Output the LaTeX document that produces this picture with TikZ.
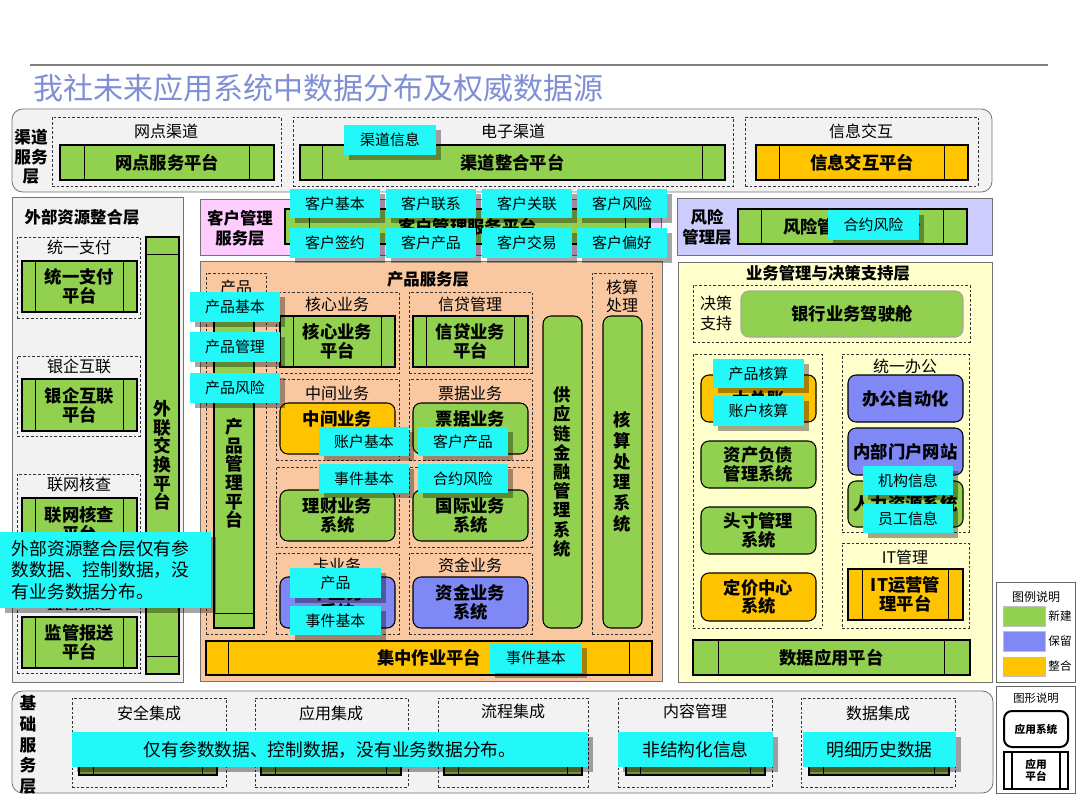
\documentclass[tikz,border=0pt]{standalone}
\usepackage{fontspec}
\setmainfont{Noto Sans CJK SC}
\usetikzlibrary{fit,calc,shadows}
\definecolor{cgreen}{HTML}{92D050}
\definecolor{cblue}{HTML}{7F88F4}
\definecolor{cyellow}{HTML}{FFC400}
\definecolor{ccyan}{HTML}{22F8F8}
\definecolor{cpeach}{HTML}{FAC8A0}
\definecolor{cpink}{HTML}{FFCCFF}
\definecolor{clav}{HTML}{CCCCFF}
\definecolor{clight}{HTML}{FFFFCC}
\definecolor{cgray}{HTML}{F2F2F2}
\definecolor{ctitle}{HTML}{7F8FD6}
\definecolor{cdgreen}{HTML}{77933C}
% box without text
\newcommand{\mkbox}[6]{\node[#6, fit={(#2,#3)(#4,#5)}, inner sep=0pt] (#1) {};}
% box with centred text
\newcommand{\mkboxt}[8]{\node[#6, fit={(#2,#3)(#4,#5)}, inner sep=0pt] (#1) {};
  \node[#7] (#1-t) at (#1.center) {#8};}
\newcommand{\mkvbars}[2]{\draw[barline] ($(#1.north west)+(#2,0)$) -- ($(#1.south west)+(#2,0)$); \draw[barline] ($(#1.north east)+(-#2,0)$) -- ($(#1.south east)+(-#2,0)$);}
\newcommand{\mkhbars}[2]{\draw[barline] ($(#1.north west)+(0,#2)$) -- ($(#1.north east)+(0,#2)$); \draw[barline] ($(#1.south west)+(0,-#2)$) -- ($(#1.south east)+(0,-#2)$);}
\tikzset{
  layerbox/.style={draw=black!55, line width=0.6pt},
  dbox/.style={draw=black!80, dash pattern=on 2pt off 1.5pt, line width=0.5pt},
  barline/.style={draw=black, line width=0.8pt},
  plat/.style={draw=black, line width=0.8pt},
  sys/.style={draw=black, line width=0.8pt, rounded corners=6pt},
  ptxt/.style={inner sep=0pt, align=center, font=\bfseries\fontsize{13pt}{14pt}\selectfont},
  vtxt/.style={inner sep=0pt, align=center, font=\bfseries\fontsize{13.3pt}{14pt}\selectfont},
  callout/.style={fill=ccyan, drop shadow={shadow xshift=4pt, shadow yshift=-4pt, opacity=0.35, fill=black}},
  ctxt/.style={inner sep=0pt, align=center, font=\fontsize{11.2pt}{13pt}\selectfont},
  bctxt/.style={inner sep=0pt, align=center, font=\fontsize{13.3pt}{15pt}\selectfont},
  lbl/.style={inner sep=0pt, align=center, font=\fontsize{12pt}{15pt}\selectfont},
  ttl/.style={inner sep=0pt, align=center, font=\bfseries\fontsize{12.3pt}{15pt}\selectfont},
}
\begin{document}
\begin{tikzpicture}[x=0.75pt,y=-0.75pt]
\useasboundingbox (0,0) rectangle (1080,810);
\fill[white] (0,0) rectangle (1080,810);
% title
\draw[black!50, line width=0.8pt] (30,65) -- (1048,65);
\node[anchor=west, inner sep=0pt, text=ctitle, font=\fontsize{22.5pt}{26pt}\selectfont] (title) at (33,88) {我社未来应用系统中数据分布及权威数据源};

% ===== channel layer
\mkbox{chan}{12}{109}{992}{192}{layerbox, fill=cgray, rounded corners=8pt}
\node[ttl, font=\bfseries\fontsize{12.5pt}{14.5pt}\selectfont] (chanl) at (31,157) {渠道\\服务\\层};
\mkbox{wdd}{52}{117}{281}{186}{dbox}
\node[lbl] (wddt) at (166,131) {网点渠道};
\mkboxt{wdp}{60}{145}{274}{180}{plat, fill=cgreen}{ptxt}{网点服务平台}
\mkvbars{wdp}{25}
\mkbox{dzd}{293}{117}{733}{186}{dbox}
\node[lbl] (dzdt) at (513,131) {电子渠道};
\mkboxt{dzp}{300}{145}{725}{180}{plat, fill=cgreen}{ptxt}{渠道整合平台}
\mkvbars{dzp}{23}
\mkbox{xxd}{745}{117}{978}{186}{dbox}
\node[lbl] (xxdt) at (861,131) {信息交互};
\mkboxt{xxp}{756}{145}{968}{180}{plat, fill=cyellow}{ptxt}{信息交互平台}
\mkvbars{xxp}{24}

% ===== external layer
\mkbox{ext}{12}{197}{183}{682}{layerbox, fill=cgray}
\node[ttl] (extt) at (82,217) {外部资源整合层};
\mkbox{zfd}{17}{237}{140}{318}{dbox}
\node[lbl] (zfdt) at (79,247) {统一支付};
\mkboxt{zfp}{22}{261}{137}{312}{plat, fill=cgreen}{ptxt}{统一支付\\平台}
\mkvbars{zfp}{14}
\mkbox{yqd}{17}{356}{140}{436}{dbox}
\node[lbl] (yqdt) at (79,366) {银企互联};
\mkboxt{yqp}{22}{379}{137}{431}{plat, fill=cgreen}{ptxt}{银企互联\\平台}
\mkvbars{yqp}{14}
\mkbox{lwd}{17}{474}{140}{555}{dbox}
\node[lbl] (lwdt) at (79,484) {联网核查};
\mkboxt{lwp}{22}{498}{137}{550}{plat, fill=cgreen}{ptxt}{联网核查\\平台}
\mkvbars{lwp}{14}
\mkbox{jgd}{17}{592}{140}{673}{dbox}
\node[lbl] (jgdt) at (79,603) {监管报送};
\mkboxt{jgp}{22}{617}{137}{668}{plat, fill=cgreen}{ptxt}{监管报送\\平台}
\mkvbars{jgp}{14}
\mkboxt{wlp}{146}{237}{179}{674}{plat, fill=cgreen}{vtxt}{外\\联\\交\\换\\平\\台}
\mkhbars{wlp}{18}

% ===== customer layer
\mkbox{cust}{200}{199}{661}{255}{layerbox, fill=cpink}
\node[ttl] (custt) at (240,228) {客户管理\\服务层};
\mkboxt{custp}{285}{209}{650}{244}{plat, fill=cgreen}{ptxt}{客户管理服务平台}
\mkvbars{custp}{25}

% ===== risk layer
\mkbox{risk}{677}{198}{992}{255}{layerbox, fill=clav}
\node[ttl] (riskt) at (707,227) {风险\\管理层};
\mkboxt{riskp}{738}{209}{967}{244}{plat, fill=cgreen}{ptxt}{风险管理服务平台}
\mkvbars{riskp}{24}

% ===== product layer
\mkbox{prod}{200}{261}{662}{681}{layerbox, fill=cpeach}
\node[ttl] (prodt) at (428,279) {产品服务层};
\mkbox{cpd}{206}{273}{266}{634}{dbox}
\node[lbl] (cpdt) at (236,287) {产品};
\mkbox{cpp}{214}{297}{254}{628}{plat, fill=cgreen}
\node[vtxt] (cpp-t) at ($(cpp.center)+(0,11)$) {产\\品\\管\\理\\平\\台};
\mkhbars{cpp}{15}
\mkbox{hxd}{276}{292}{399}{373}{dbox}
\node[lbl] (hxdt) at (337,304) {核心业务};
\mkboxt{hxp}{280}{316}{395}{367}{plat, fill=cgreen}{ptxt}{核心业务\\平台}
\mkvbars{hxp}{14}
\mkbox{xdd}{409}{292}{532}{373}{dbox}
\node[lbl] (xddt) at (470,304) {信贷管理};
\mkboxt{xdp}{413}{316}{528}{367}{plat, fill=cgreen}{ptxt}{信贷业务\\平台}
\mkvbars{xdp}{14}
\mkbox{zjd}{276}{379}{399}{460}{dbox}
\node[lbl] (zjdt) at (337,393) {中间业务};
\mkboxt{zjs}{280}{403}{395}{454}{sys, fill=cyellow}{ptxt}{中间业务\\系统}
\mkbox{pjd}{409}{379}{532}{460}{dbox}
\node[lbl] (pjdt) at (470,393) {票据业务};
\mkboxt{pjs}{413}{403}{528}{454}{sys, fill=cgreen}{ptxt}{票据业务\\系统}
\mkbox{lcd}{276}{467}{399}{547}{dbox}
\mkboxt{lcs}{280}{490}{395}{541}{sys, fill=cgreen}{ptxt}{理财业务\\系统}
\mkbox{gjd}{409}{467}{532}{547}{dbox}
\mkboxt{gjs}{413}{490}{528}{541}{sys, fill=cgreen}{ptxt}{国际业务\\系统}
\mkbox{kd}{276}{553}{399}{634}{dbox}
\node[lbl] (kdt) at (337,565) {卡业务};
\mkboxt{ks}{280}{577}{395}{628}{sys, fill=cblue}{ptxt}{卡业务\\系统}
\mkbox{zjjd}{409}{553}{532}{634}{dbox}
\node[lbl] (zjjdt) at (470,565) {资金业务};
\mkboxt{zjjs}{413}{577}{528}{628}{sys, fill=cblue}{ptxt}{资金业务\\系统}
\mkboxt{gyl}{543}{316}{582}{628}{sys, fill=cgreen}{vtxt, font=\bfseries\fontsize{13pt}{14.4pt}\selectfont}{供\\应\\链\\金\\融\\管\\理\\系\\统}
\mkbox{hsd}{592}{273}{652}{634}{dbox}
\node[lbl, font=\fontsize{12pt}{13.5pt}\selectfont] (hsdt) at (622,296) {核算\\处理};
\mkboxt{hss}{603}{316}{642}{628}{sys, fill=cgreen}{vtxt, font=\bfseries\fontsize{13pt}{15.5pt}\selectfont}{核\\算\\处\\理\\系\\统}
\mkboxt{jzp}{206}{641}{652}{675}{plat, fill=cyellow}{ptxt}{集中作业平台}
\mkvbars{jzp}{23}

% ===== business layer
\mkbox{biz}{678}{262}{992}{682}{layerbox, fill=clight}
\node[ttl] (bizt) at (828,273) {业务管理与决策支持层};
\mkbox{jcd}{693}{285}{970}{342}{dbox}
\node[lbl] (jcdt) at (716,313) {决策\\支持};
\mkboxt{jsc}{741}{291}{963}{337}{sys, draw=black!35, fill=cgreen}{ptxt}{银行业务驾驶舱}
\mkbox{cwd}{693}{354}{822}{628}{dbox}
\mkboxt{dzz}{701}{375}{816}{422}{sys, fill=cyellow}{ptxt}{大总账}
\mkboxt{zcfz}{701}{441}{816}{488}{sys, fill=cgreen}{ptxt}{资产负债\\管理系统}
\mkboxt{tc}{701}{507}{816}{554}{sys, fill=cgreen}{ptxt}{头寸管理\\系统}
\mkboxt{djzx}{701}{573}{816}{621}{sys, fill=cyellow}{ptxt}{定价中心\\系统}
\mkbox{bgd}{842}{354}{969}{532}{dbox}
\node[lbl] (bgdt) at (905,366) {统一办公};
\mkboxt{oa}{848}{375}{963}{422}{sys, fill=cblue}{ptxt}{办公自动化}
\mkboxt{mh}{848}{428}{963}{475}{sys, fill=cblue}{ptxt}{内部门户网站}
\mkboxt{hr}{848}{481}{963}{527}{sys, fill=cgreen}{ptxt}{人力资源系统}
\mkbox{itd}{842}{543}{969}{628}{dbox}
\node[lbl] (itdt) at (905,557) {IT管理};
\mkboxt{itp}{848}{569}{963}{620}{plat, fill=cyellow}{ptxt}{IT运营管\\理平台}
\mkvbars{itp}{15}
\mkboxt{sjyy}{693}{640}{970}{675}{plat, fill=cgreen}{ptxt}{数据应用平台}
\mkvbars{sjyy}{26}

% ===== base layer
\mkbox{base}{12}{691}{993}{793}{layerbox, fill=cgray, rounded corners=8pt}
\node[ttl, font=\bfseries\fontsize{12.5pt}{15.5pt}\selectfont] (baset) at (28,745) {基\\础\\服\\务\\层};
\mkbox{aqd}{72}{698}{226}{787}{dbox}
\node[lbl] (aqdt) at (149,713) {安全集成};
\mkbox{aqp}{79}{738}{217}{775}{plat, fill=cdgreen}
\mkvbars{aqp}{15}
\mkbox{yyd}{255}{698}{408}{787}{dbox}
\node[lbl] (yydt) at (331,713) {应用集成};
\mkbox{yyp}{261}{738}{401}{775}{plat, fill=cdgreen}
\mkvbars{yyp}{15}
\mkbox{lcjd}{438}{698}{588}{787}{dbox}
\node[lbl] (lcjdt) at (513,711) {流程集成};
\mkbox{lcjp}{444}{738}{582}{775}{plat, fill=cdgreen}
\mkvbars{lcjp}{15}
\mkbox{nrd}{618}{698}{772}{787}{dbox}
\node[lbl] (nrdt) at (695,711) {内容管理};
\mkbox{nrp}{626}{738}{765}{775}{plat, fill=cdgreen}
\mkvbars{nrp}{15}
\mkbox{sjjd}{801}{698}{955}{787}{dbox}
\node[lbl] (sjjdt) at (878,713) {数据集成};
\mkbox{sjjp}{809}{738}{949}{775}{plat, fill=cdgreen}
\mkvbars{sjjp}{15}

% ===== legends
\mkbox{lg1}{996}{582}{1075}{682}{draw=black!60, fill=white, line width=0.6pt}
\node[lbl, font=\fontsize{9pt}{11pt}\selectfont] (lg1t) at (1036,597) {图例说明};
\mkbox{swg}{1003}{606}{1045}{626}{draw=black!25, fill=cgreen}
\mkbox{swb}{1003}{631}{1045}{651}{draw=black!25, fill=cblue}
\mkbox{swy}{1003}{657}{1045}{676}{draw=black!25, fill=cyellow}
\node[lbl, font=\fontsize{8.7pt}{10pt}\selectfont] (lgg) at (1060,616) {新建};
\node[lbl, font=\fontsize{8.7pt}{10pt}\selectfont] (lgb) at (1060,641) {保留};
\node[lbl, font=\fontsize{8.7pt}{10pt}\selectfont] (lgy) at (1060,666) {整合};
\mkbox{lg2}{996}{686}{1075}{793}{draw=black!60, fill=white, line width=0.6pt}
\node[lbl, font=\fontsize{8.5pt}{10pt}\selectfont] (lg2t) at (1036,698) {图形说明};
\mkboxt{lgs}{1004}{711}{1068}{747}{draw=black, line width=1.5pt, rounded corners=6pt}{ptxt, font=\bfseries\fontsize{8pt}{9.5pt}\selectfont}{应用系统}
\mkboxt{lgp}{1004}{752}{1068}{789}{draw=black, line width=1.5pt}{ptxt, font=\bfseries\fontsize{8pt}{9.5pt}\selectfont}{应用\\平台}
\draw[black, line width=1.5pt] ($(lgp.north west)+(9,0)$) -- ($(lgp.south west)+(9,0)$);
\draw[black, line width=1.5pt] ($(lgp.north east)+(-9,0)$) -- ($(lgp.south east)+(-9,0)$);

% ===== callouts
\mkboxt{qdxx}{344}{125}{436}{155}{callout}{ctxt}{渠道信息}
\mkboxt{kh1}{290}{189}{380}{218}{callout}{ctxt}{客户基本}
\mkboxt{kh2}{386}{189}{476}{218}{callout}{ctxt}{客户联系}
\mkboxt{kh3}{482}{189}{572}{218}{callout}{ctxt}{客户关联}
\mkboxt{kh4}{577}{189}{667}{218}{callout}{ctxt}{客户风险}
\mkboxt{kh5}{290}{228}{380}{258}{callout}{ctxt}{客户签约}
\mkboxt{kh6}{386}{228}{476}{258}{callout}{ctxt}{客户产品}
\mkboxt{kh7}{482}{228}{572}{258}{callout}{ctxt}{客户交易}
\mkboxt{kh8}{577}{228}{667}{258}{callout}{ctxt}{客户偏好}
\mkboxt{hyfx}{828}{210}{919}{240}{callout}{ctxt}{合约风险}
\mkboxt{cp1}{190}{292}{280}{322}{callout}{ctxt}{产品基本}
\mkboxt{cp2}{190}{332}{280}{362}{callout}{ctxt}{产品管理}
\mkboxt{cp3}{190}{373}{280}{403}{callout}{ctxt}{产品风险}
\mkboxt{zh1}{319}{427}{409}{456}{callout}{ctxt}{账户基本}
\mkboxt{kc1}{418}{427}{508}{456}{callout}{ctxt}{客户产品}
\mkboxt{sj1}{319}{464}{409}{493}{callout}{ctxt}{事件基本}
\mkboxt{hy2}{418}{464}{508}{493}{callout}{ctxt}{合约风险}
\mkboxt{cpk}{290}{568}{381}{598}{callout}{ctxt}{产品}
\mkboxt{sj2}{290}{606}{381}{635}{callout}{ctxt}{事件基本}
\mkboxt{sj3}{490}{643}{582}{673}{callout}{ctxt}{事件基本}
\mkboxt{cphs}{713}{359}{804}{388}{callout}{ctxt}{产品核算}
\mkboxt{zhhs}{713}{396}{804}{426}{callout}{ctxt}{账户核算}
\mkboxt{jgxx}{863}{466}{953}{495}{callout}{ctxt}{机构信息}
\mkboxt{ygxx}{863}{504}{953}{533}{callout}{ctxt}{员工信息}
\mkbox{wbn}{0}{532}{211}{608}{callout}
\node[anchor=west, inner sep=0pt, align=left, font=\fontsize{13.3pt}{16.3pt}\selectfont] (wbn-t) at ($(wbn.west)+(12,0)$) {外部资源整合层仅有参\\数数据、控制数据，没\\有业务数据分布。};
\mkboxt{bn1}{72}{732}{588}{767}{callout}{bctxt}{仅有参数数据、控制数据，没有业务数据分布。}
\mkboxt{bn2}{618}{732}{773}{767}{callout}{bctxt}{非结构化信息}
\mkboxt{bn3}{803}{732}{956}{767}{callout}{bctxt}{明细历史数据}
\end{tikzpicture}
\end{document}
